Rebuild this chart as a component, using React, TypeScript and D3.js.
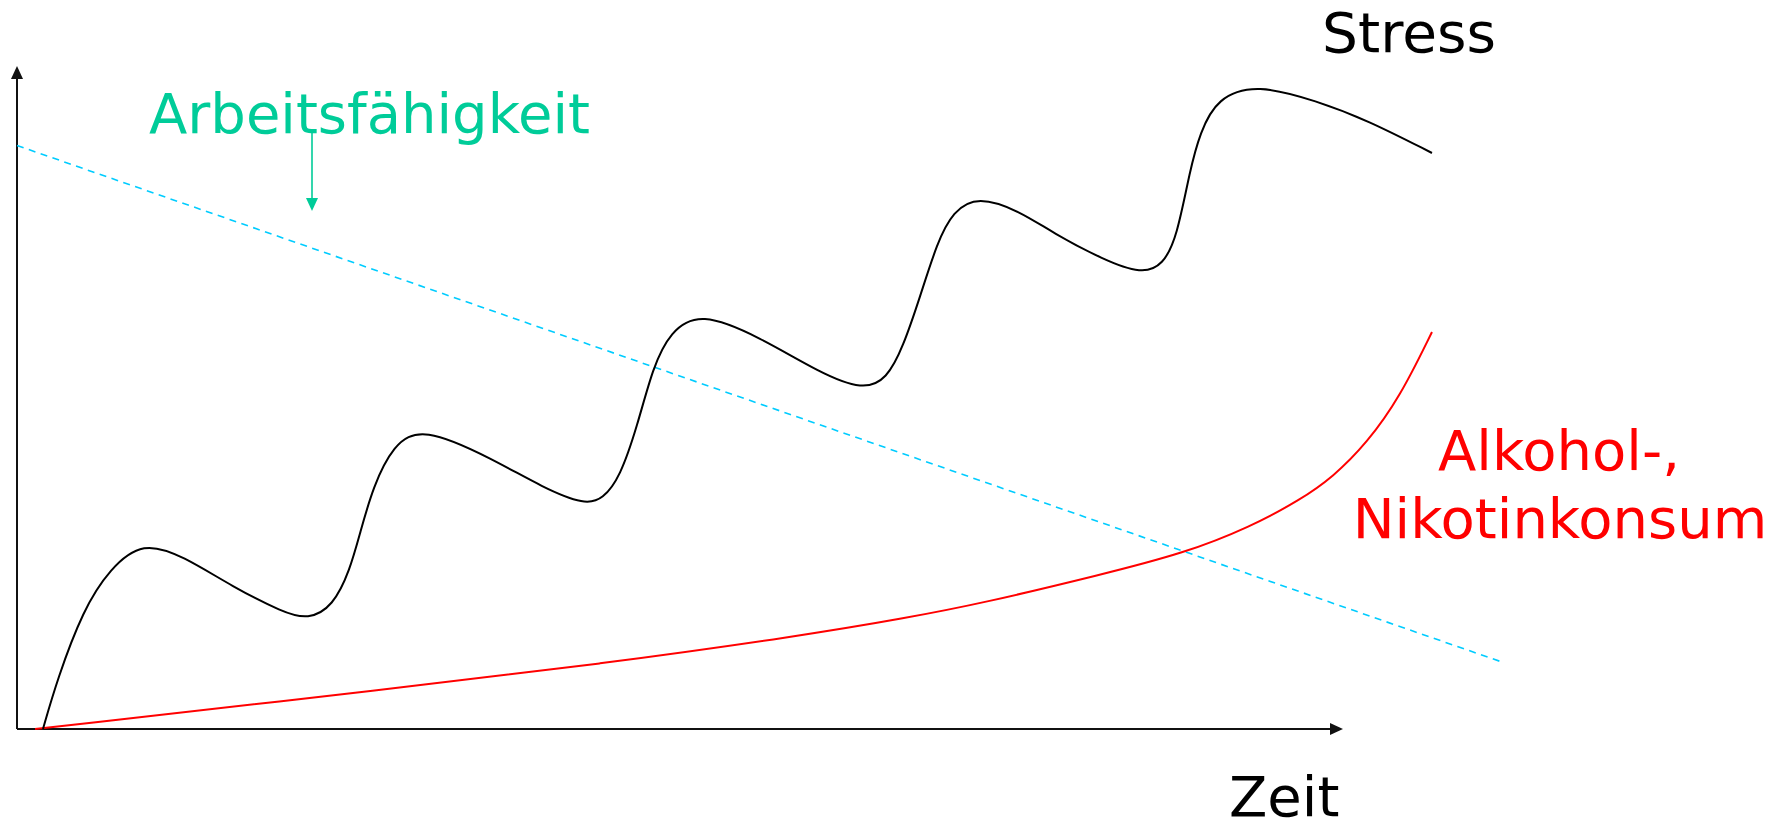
import React from "react";
import * as d3 from "d3";

// ---- Data (arbitrary units: time 0..~112, level 0..100) ----
const stressT = [1.96, 3.02, 4.98, 7.01, 9.5, 12.52, 16.29, 20.06, 21.95, 23.83, 25.11, 25.87, 26.85, 28.36, 30.54, 35.9, 39.67, 42.84, 44.19, 45.48, 46.76, 47.96, 49.25, 51.51, 56.03, 60.56, 63.8, 65.61, 66.82, 68.1, 69.38, 70.59, 72.47, 75.64, 78.13, 81.9, 84.84, 86.43, 87.48, 88.46, 89.21, 90.5, 93.51, 98.04, 101.81, 106.71];
const stressV = [0, 7.39, 17.95, 24.2, 28.3, 26.1, 21.42, 17.6, 16.5, 18.5, 23.98, 29.56, 36.5, 42.8, 45.7, 40.7, 36.4, 33.8, 34.7, 38.01, 45.55, 54.6, 59.9, 63.0, 59.1, 53.7, 51.1, 52.8, 57.62, 65.16, 73.3, 78.1, 80.4, 78.1, 74.81, 70.8, 68.6, 70.0, 74.21, 84.31, 89.89, 95.2, 97.3, 94.7, 91.86, 86.88];

const alcT = [1.36, 28.88, 43.97, 59.05, 67.04, 72.85, 81.67, 88.09, 92.99, 96.76, 99.25, 101.81, 104.3, 106.71];
const alcV = [0, 6.18, 9.8, 14.03, 16.74, 19.0, 23.23, 26.55, 30.47, 34.54, 38.01, 43.14, 50.08, 59.88];

const workT = [0, 111.99];
const workV = [88.01, 10.1];

const labels = {
  stress: "Stress",
  work: "Arbeitsfähigkeit",
  alc1: "Alkohol-,",
  alc2: "Nikotinkonsum",
  time: "Zeit",
};

const W = 1774;
const H = 827;

export default function App() {
  const x = d3.scaleLinear().domain([0, 100]).range([17, 1343]);
  const y = d3.scaleLinear().domain([0, 100]).range([729, 66]);

  const smooth = d3
    .line<[number, number]>()
    .x((d) => x(d[0]))
    .y((d) => y(d[1]))
    .curve(d3.curveBasis);

  const straight = d3
    .line<[number, number]>()
    .x((d) => x(d[0]))
    .y((d) => y(d[1]));

  const stressPts = stressT.map((t, i) => [t, stressV[i]] as [number, number]);
  const alcPts = alcT.map((t, i) => [t, alcV[i]] as [number, number]);
  const workPts = workT.map((t, i) => [t, workV[i]] as [number, number]);

  const x0 = x(0);
  const y0 = y(0);
  const xEnd = x(100);
  const yTop = y(100);

  const font = "'DejaVu Sans', Verdana, sans-serif";
  const green = "#00cc99";

  return (
    <div style={{ position: "fixed", left: 0, top: 0, width: W, height: H, background: "#fff" }}>
      <svg width={W} height={H} viewBox={`0 0 ${W} ${H}`}>
        <rect x={0} y={0} width={W} height={H} fill="#fff" />
        {/* axes */}
        <line x1={x0} y1={y0} x2={x0} y2={yTop + 12} stroke="#111" strokeWidth={2} />
        <path d={`M${x0},${yTop} L${x0 - 6},${yTop + 13} L${x0 + 6},${yTop + 13} Z`} fill="#111" />
        <line x1={x0} y1={y0} x2={xEnd - 12} y2={y0} stroke="#111" strokeWidth={2} />
        <path d={`M${xEnd},${y0} L${xEnd - 13},${y0 - 6} L${xEnd - 13},${y0 + 6} Z`} fill="#111" />

        {/* Arbeitsfähigkeit dashed */}
        <path d={straight(workPts) || ""} fill="none" stroke="#00ccff" strokeWidth={1.6} strokeDasharray="7 5.5" />

        {/* Alcohol/Nicotine */}
        <path d={smooth(alcPts) || ""} fill="none" stroke="#ff0000" strokeWidth={2} />

        {/* Stress */}
        <path d={smooth(stressPts) || ""} fill="none" stroke="#000" strokeWidth={2} />

        {/* green pointer */}
        <line x1={312} y1={133} x2={312} y2={200} stroke={green} strokeWidth={1.6} />
        <path d="M312,211 L306,198 L318,198 Z" fill={green} />

        {/* labels */}
        <text x={1322} y={52} fontFamily={font} fontSize={56} fill="#000" textLength={174} lengthAdjust="spacingAndGlyphs">{labels.stress}</text>
        <text x={149} y={133} fontFamily={font} fontSize={56} fill={green}>{labels.work}</text>
        <text x={1559} y={470} fontFamily={font} fontSize={56} fill="#ff0000" textAnchor="middle">{labels.alc1}</text>
        <text x={1560} y={538} fontFamily={font} fontSize={56} fill="#ff0000" textAnchor="middle">{labels.alc2}</text>
        <text x={1229} y={816} fontFamily={font} fontSize={56} fill="#000">{labels.time}</text>
      </svg>
    </div>
  );
}
